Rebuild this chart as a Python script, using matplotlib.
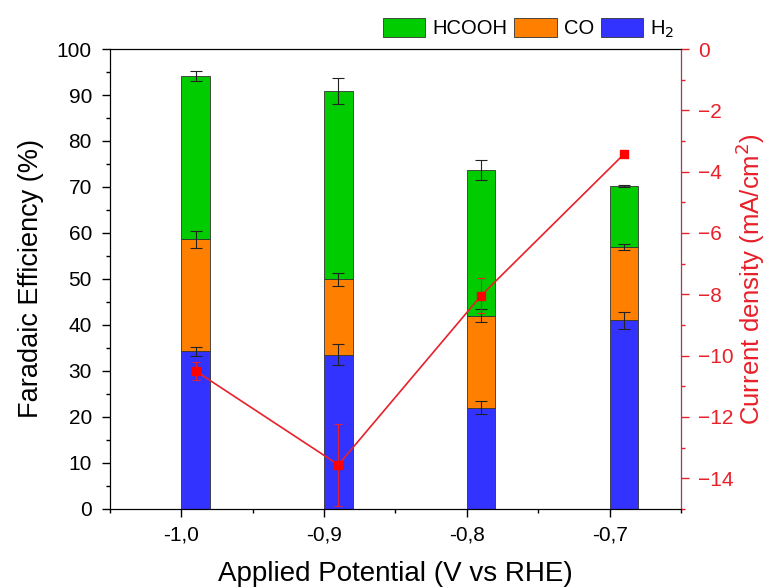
import matplotlib.pyplot as plt
from matplotlib.ticker import MultipleLocator, FixedLocator
from matplotlib.patches import Patch

plt.rcParams['font.family'] = ['Liberation Sans', 'DejaVu Sans']

# applied potential (V vs RHE)
potential = [-1.0, -0.9, -0.8, -0.7]
tick_labels = ['-1,0', '-0,9', '-0,8', '-0,7']

# faradaic efficiencies (%), stacked H2 / CO / HCOOH
h2 = [34.3, 33.5, 22.0, 41.0]
co = [24.3, 16.4, 20.0, 16.0]
hcooh = [35.6, 41.0, 31.7, 13.2]
h2_err = [0.95, 2.3, 1.45, 1.9]
co_err = [1.85, 1.5, 1.4, 0.7]
hcooh_err = [1.1, 2.8, 2.2, 0.2]

# current density (mA/cm2)
current = [-10.5, -13.56, -8.04, -3.43]
current_err = [0.3, 1.33, 0.58, 0.08]

c_h2 = '#3333ff'
c_co = '#ff8000'
c_hcooh = '#00cc00'
c_red = '#e8202a'

fig = plt.figure(figsize=(7.69, 5.87), dpi=100)
ax = fig.add_axes([0.143, 0.133, 0.7426, 0.7835])

w = 0.02
bot_co = [a for a in h2]
bot_hc = [a + b for a, b in zip(h2, co)]
top = [a + b + c for a, b, c in zip(h2, co, hcooh)]
xc = [p + w / 2 for p in potential]

ax.bar(potential, h2, w, align='edge', color=c_h2, edgecolor='#333333', linewidth=0.6)
ax.bar(potential, co, w, bottom=bot_co, align='edge', color=c_co, edgecolor='#333333', linewidth=0.6)
ax.bar(potential, hcooh, w, bottom=bot_hc, align='edge', color=c_hcooh, edgecolor='#333333', linewidth=0.6)
ax.errorbar(xc, h2, yerr=h2_err, fmt='none', ecolor='#222222', elinewidth=0.8, capsize=4, capthick=0.8)
ax.errorbar(xc, bot_hc, yerr=co_err, fmt='none', ecolor='#222222', elinewidth=0.8, capsize=4, capthick=0.8)
ax.errorbar(xc, top, yerr=hcooh_err, fmt='none', ecolor='#222222', elinewidth=0.8, capsize=4, capthick=0.8)

ax.set_xlim(-1.05, -0.65)
ax.set_ylim(0, 100)
ax.xaxis.set_major_locator(FixedLocator(potential))
ax.set_xticklabels(tick_labels)
ax.xaxis.set_minor_locator(MultipleLocator(0.05))
ax.yaxis.set_major_locator(MultipleLocator(10))
ax.yaxis.set_minor_locator(MultipleLocator(5))
ax.tick_params(axis='both', which='major', length=6, width=1, labelsize=15, direction='out')
ax.tick_params(axis='x', which='major', pad=6)
ax.tick_params(axis='y', which='major', pad=7)
ax.tick_params(axis='both', which='minor', length=3, width=1, direction='out')
ax.set_xlabel('Applied Potential (V vs RHE)', fontsize=20, labelpad=12)
ax.set_ylabel('Faradaic Efficiency (%)', fontsize=19.5, labelpad=9)

ax2 = ax.twinx()
ax2.errorbar(xc, current, yerr=current_err, color=c_red, ecolor=c_red, marker='s', markersize=6,
             markerfacecolor='#ff0000', markeredgecolor='#ff0000', linewidth=1.2,
             elinewidth=0.8, capsize=3, capthick=0.8)
ax2.set_ylim(-15, 0)
ax2.yaxis.set_major_locator(MultipleLocator(2))
ax2.yaxis.set_minor_locator(MultipleLocator(1))
ax2.tick_params(axis='y', which='major', length=6, width=1, labelsize=15, colors=c_red, pad=6)
ax2.tick_params(axis='y', which='minor', length=3, width=1, colors=c_red)
ax2.spines['right'].set_color(c_red)
ax2.set_ylabel('Current density (mA/cm$^2$)', fontsize=18.5, color=c_red, labelpad=0)

handles = [Patch(facecolor=c_hcooh, edgecolor='#333333', linewidth=0.6, label='HCOOH'),
           Patch(facecolor=c_co, edgecolor='#333333', linewidth=0.6, label='CO'),
           Patch(facecolor=c_h2, edgecolor='#333333', linewidth=0.6, label='H$_2$')]
fig.legend(handles=handles, loc='upper right', bbox_to_anchor=(0.893, 0.99), ncol=3, frameon=False,
           fontsize=14.5, handlelength=2.1, handleheight=1.1, handletextpad=0.35, columnspacing=0.35,
           borderaxespad=0.2)

fig.savefig('out.png', dpi=100)
